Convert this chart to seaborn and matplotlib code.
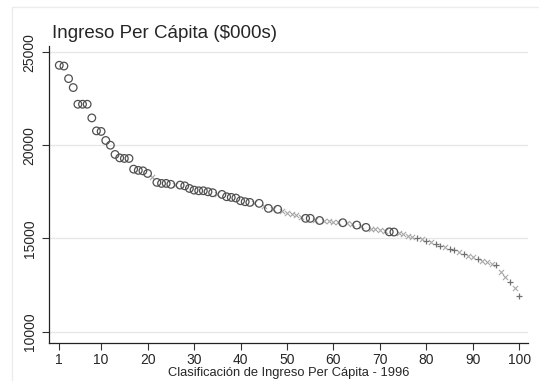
import pandas as pd
import matplotlib
matplotlib.use("Agg")
import matplotlib.pyplot as plt
import matplotlib.lines as mlines
import seaborn as sns

# datos
rango = list(range(1, 101))
ingreso = [
    24290, 24250, 23575, 23095, 22200, 22200, 22200, 21465, 20770, 20740,
    20255, 20000, 19505, 19320, 19290, 19290, 18715, 18650, 18625, 18485,
    18305, 18005, 17950, 17950, 17900, 17880, 17860, 17820, 17680, 17590,
    17555, 17555, 17500, 17450, 17400, 17360, 17235, 17200, 17165, 17020,
    16965, 16930, 16905, 16880, 16750, 16610, 16580, 16560, 16450, 16380,
    16300, 16250, 16150, 16075, 16075, 16010, 15960, 15930, 15910, 15890,
    15865, 15840, 15800, 15760, 15715, 15650, 15590, 15530, 15480, 15430,
    15380, 15350, 15340, 15280, 15210, 15140, 15070, 15010, 14950, 14880,
    14790, 14700, 14600, 14520, 14440, 14350, 14260, 14170, 14080, 13990,
    13900, 13800, 13720, 13640, 13560, 13215, 12915, 12650, 12325, 11910,
]
# o = circulo, x = cruz diagonal, + = cruz
grupo = list(
    "ooooooooooooooooooooxooooxoooooooox"
    "oooooooxoxoxoxxxxxooxoxxxxoxxoxoxxxxoo"
    "xxxx+x+x++x++x+xx+xxx+xx+x+"
)

estilos = {
    "o": dict(marker="o", s=30, facecolor="none", edgecolor="#505050", linewidth=0.9),
    "x": dict(marker="x", s=14, color="#a8a8a8", linewidth=0.8),
    "+": dict(marker="+", s=24, color="#707070", linewidth=0.9),
}

df = pd.DataFrame({"rango": rango, "ingreso": ingreso, "grupo": grupo})

sns.set_style("white")
plt.rcParams["font.family"] = ["Liberation Sans", "DejaVu Sans"]

fig = plt.figure(figsize=(5.39, 3.81), dpi=100)

# marco tenue de la region del grafico
W, H = 539.0, 381.0
fig.add_artist(mlines.Line2D([12 / W, 1], [1 - 7 / H, 1 - 7 / H], color="#ececec", lw=1))
fig.add_artist(mlines.Line2D([12 / W, 12 / W], [0, 1 - 7 / H], color="#ececec", lw=1))

ax = fig.add_axes([0.091, 0.100, 0.889, 0.779])

# orden: cruces primero, circulos encima
for g in ["x", "+", "o"]:
    sub = df[df["grupo"] == g]
    sns.scatterplot(x="rango", y="ingreso", data=sub, ax=ax, legend=False, **estilos[g])

ax.set_xlim(-1.2, 101.9)
ax.set_ylim(9390, 25320)
ax.set_xticks([1, 10, 20, 30, 40, 50, 60, 70, 80, 90, 100])
ax.set_yticks([10000, 15000, 20000, 25000])
ax.set_yticklabels(["10000", "15000", "20000", "25000"], rotation=90, va="center")
ax.tick_params(axis="both", direction="out", length=5, width=0.8, color="#333333",
               labelsize=10, pad=2, left=True, bottom=True)
ax.tick_params(axis="y", pad=4)
ax.yaxis.grid(True, color="#e6e6e6", linewidth=0.9)
ax.xaxis.grid(False)
for s in ["top", "right"]:
    ax.spines[s].set_visible(False)
for s in ["left", "bottom"]:
    ax.spines[s].set_color("#222222")
    ax.spines[s].set_linewidth(0.9)

ax.set_xlabel("Clasificación de Ingreso Per Cápita - 1996", fontsize=9.3, labelpad=0)
ax.set_ylabel("")
fig.text(0.097, 0.913, "Ingreso Per Cápita ($000s)", fontsize=13.5, ha="left", va="center")

plt.savefig("out.png", dpi=100)
plt.close()
